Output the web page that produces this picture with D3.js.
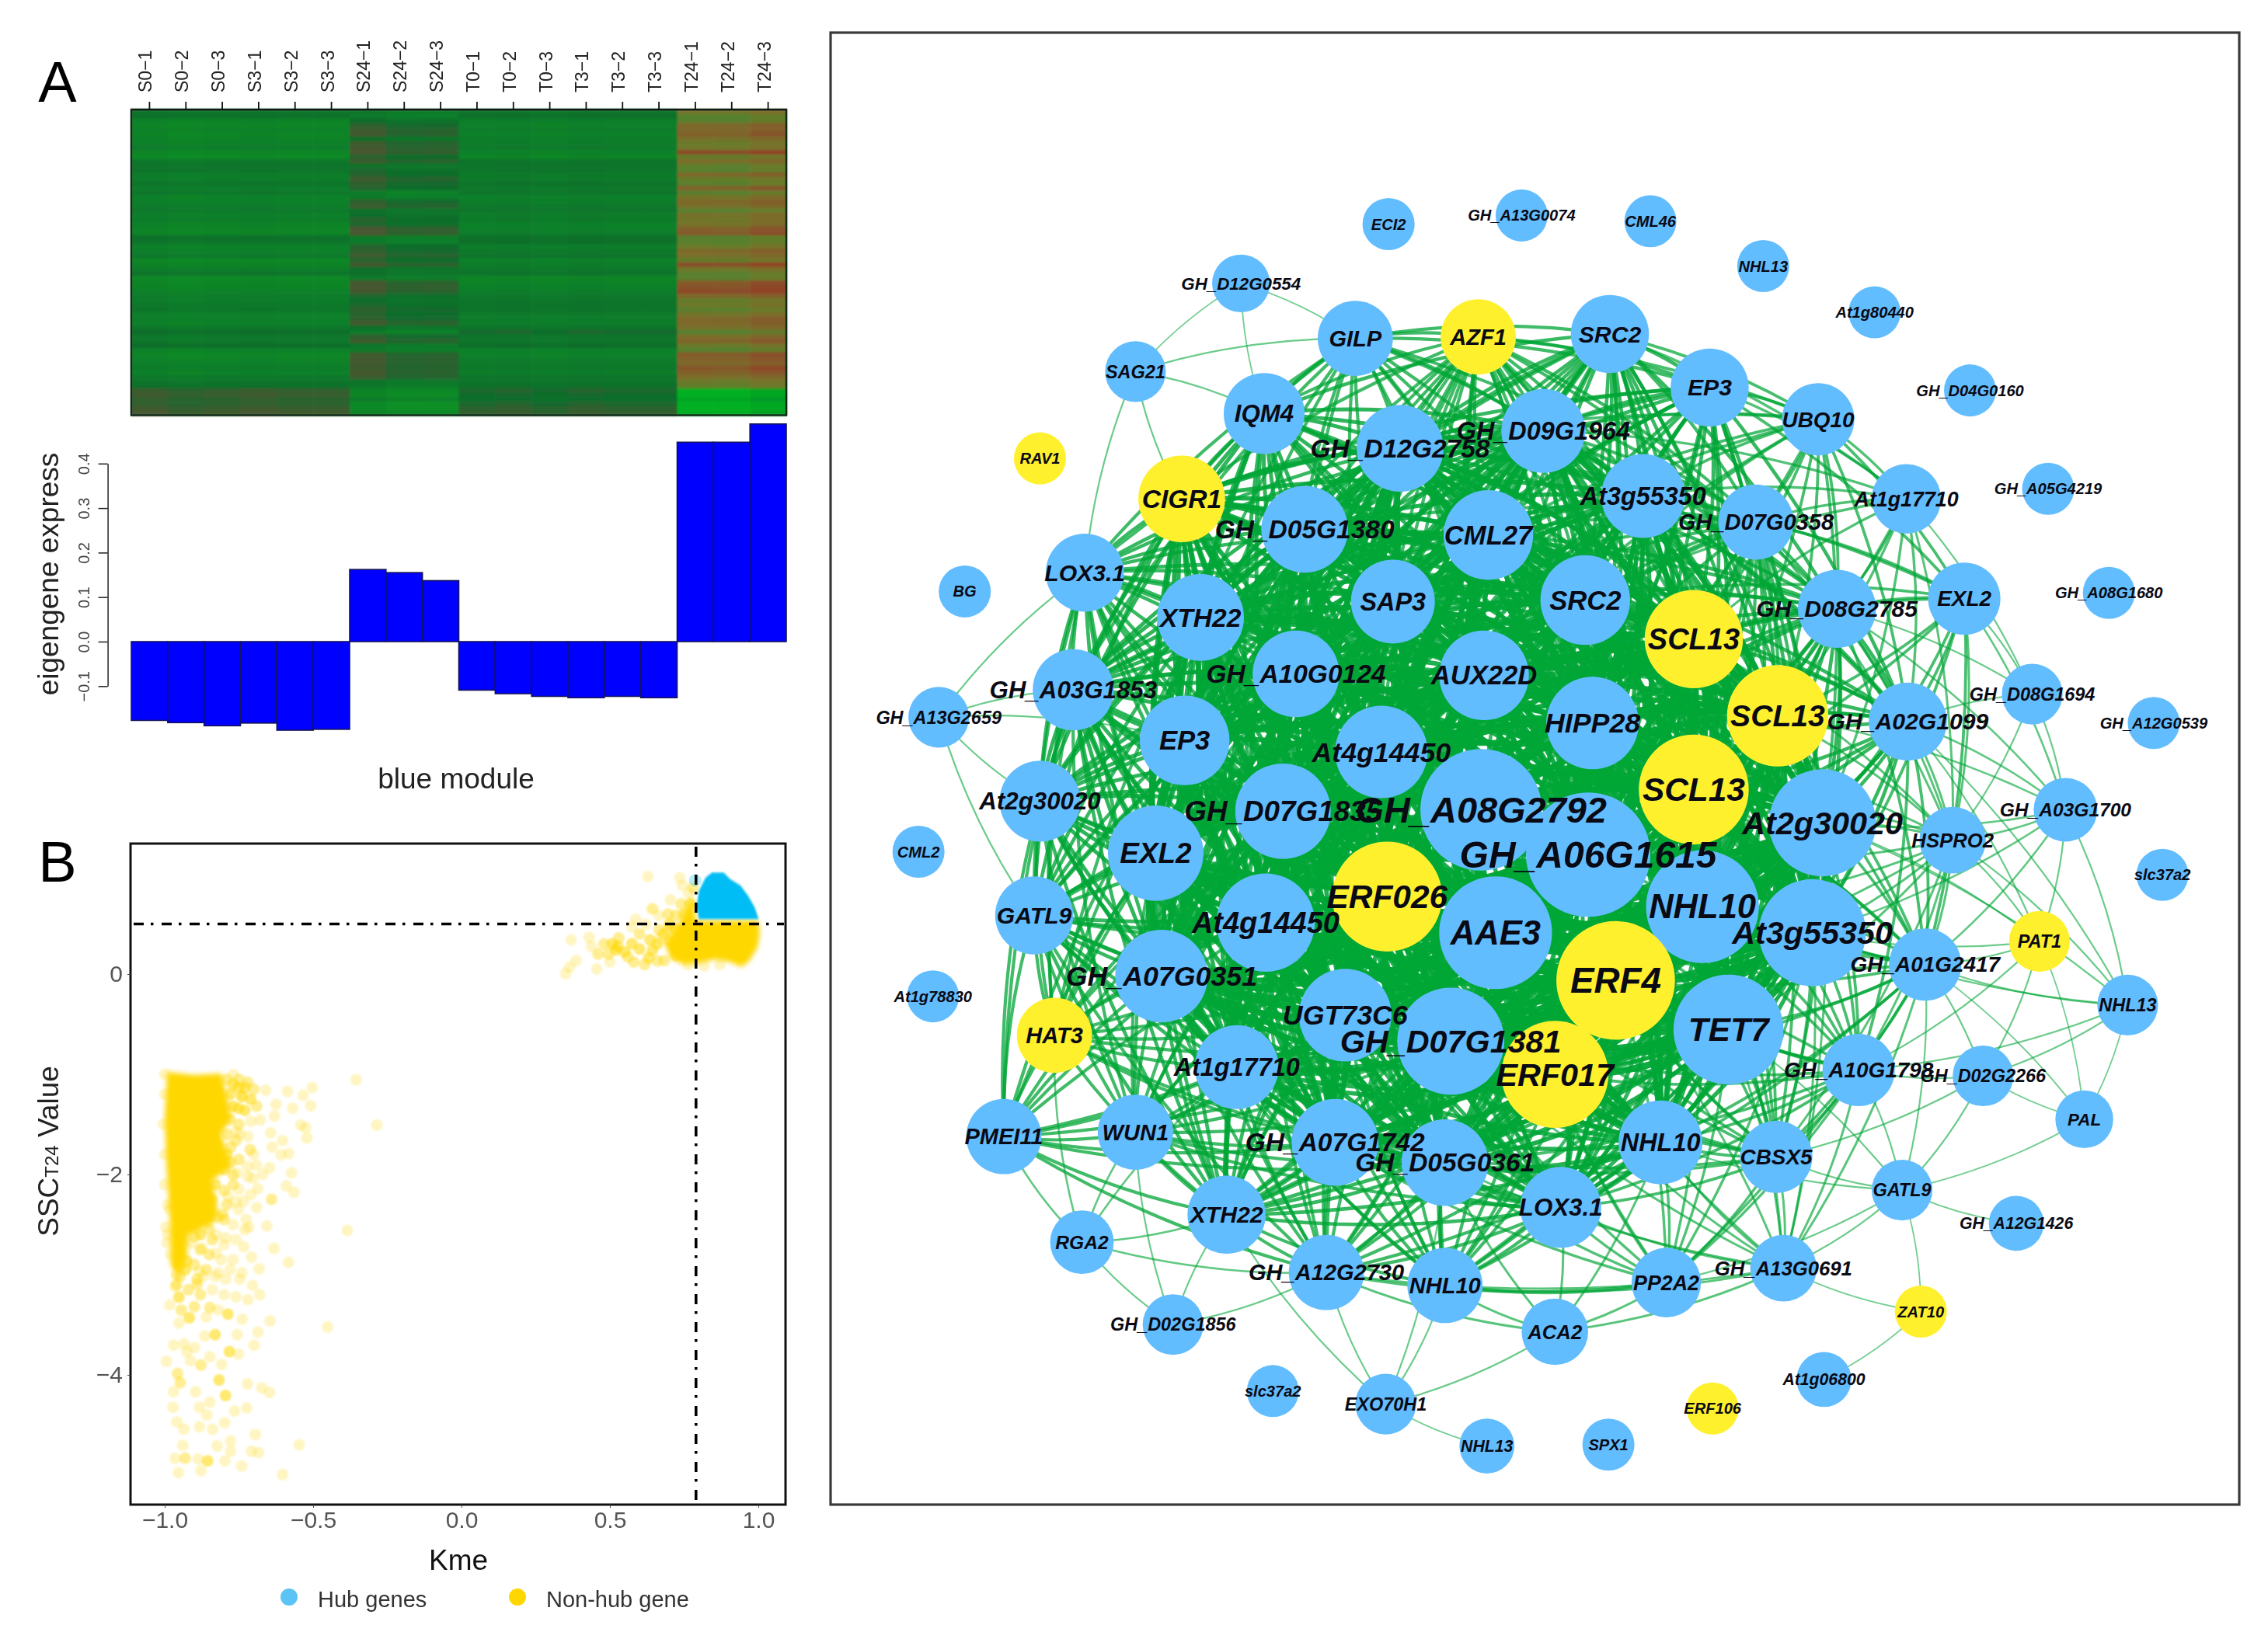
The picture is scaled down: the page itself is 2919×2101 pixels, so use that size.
<!DOCTYPE html>
<html><head><meta charset="utf-8">
<script src="https://cdn.jsdelivr.net/npm/d3@7/dist/d3.min.js"></script>
<style>html,body{margin:0;background:#fff}svg{display:block;filter:blur(0.7px)}text{font-family:"Liberation Sans",Arial,sans-serif}</style>
</head><body><svg id="fig" width="2919" height="2101"></svg>
<script>
// ---------- Panel A data ----------
const samples = ["S0−1","S0−2","S0−3","S3−1","S3−2","S3−3","S24−1","S24−2","S24−3","T0−1","T0−2","T0−3","T3−1","T3−2","T3−3","T24−1","T24−2","T24−3"];
const eigengene = [-.177,-.182,-.189,-.183,-.199,-.197,.162,.155,.137,-.109,-.117,-.123,-.126,-.123,-.126,.448,.448,.489];
const eigenTicks = [-.1,0,.1,.2,.3,.4];
const heatS = [.34,.38,.26,.24,.27,.24,.26,.27,.3,.24,.22,.33,.35,.36,.3,.3,.35,.3,.34,.27,.28,.3,.33,.28,.3,.26,.25,.25,.38,.35,.27,.28,.33,.24,.25,.3,.36,.22,.24,.25,.27,.3,.3,.33,.34,.28,.28,.27,.33,.4,.33,.33,.4,.27,.24,.26,.28,.3,.27,.33,.35,.38,.46,.47,.45,.45,.47,.48];
const heatS24 = [.32,.3,.38,.43,.45,.46,.36,.45,.46,.47,.42,.45,.35,.4,.42,.45,.43,.42,.28,.3,.43,.45,.36,.38,.42,.4,.47,.47,.3,.3,.42,.43,.45,.42,.46,.36,.36,.3,.46,.47,.46,.4,.38,.4,.43,.42,.43,.46,.36,.28,.43,.45,.33,.3,.45,.46,.46,.45,.46,.45,.34,.32,.24,.22,.28,.2,.2,.24];
const heatT = [.35,.38,.3,.27,.3,.27,.3,.3,.32,.27,.25,.35,.36,.36,.32,.32,.36,.33,.35,.28,.3,.33,.35,.3,.32,.28,.28,.3,.38,.38,.3,.33,.36,.28,.3,.33,.36,.25,.26,.28,.3,.33,.35,.36,.36,.32,.3,.3,.35,.42,.35,.35,.4,.28,.27,.3,.32,.33,.3,.35,.36,.38,.43,.41,.4,.43,.45,.46];
const heatT24 = [.72,.56,.57,.82,.82,.87,.75,.66,.68,.98,.63,.77,.6,.57,.82,.62,.58,.87,.58,.72,.82,.75,.58,.74,.7,.72,.87,.9,.57,.57,.66,.82,.75,.63,.96,.7,.58,.58,.9,.94,.98,.82,.63,.68,.58,.7,.82,.82,.75,.56,.77,.85,.66,.56,.9,.87,.82,.92,.87,.77,.66,.62,.02,0,.08,0,0,.02];
const replicateShift = [.01,-.01,0,.01,0,0,.025,-.015,-.01,0,.01,-.01,.01,0,0,-.01,-.02,.05];
const heatStops = [0,.25,.4,.5,.52,.65,.75,.85,1];
const heatColors = ["#00b022","#0a8428","#0a6e2c","#4d5530","#50822d","#6a7a2c","#7a6e2a","#80622a","#8f4428"];

// ---------- Panel B data (x = Kme, y = SSC value, optional overlap count) ----------
const kmeTicks = [-1,-.5,0,.5,1];
const sscTicks = [0,-2,-4];
const kmeCut = .79, sscCut = .5;
const hubOutline = [[.8,.548],[.792,.677],[.8,.832],[.822,.961],[.844,1.013],[.883,1.013],[.905,.948],[.94,.883],[.966,.78],[.988,.664],[1.001,.548]];
const upperOutline = [[.79,.535],[1.001,.535],[1.005,.392],[.997,.263],[.97,.134],[.944,.069],[.905,.121],[.853,.147],[.8,.108],[.748,.095],[.704,.16],[.687,.289],[.704,.392],[.739,.547],[.757,.651],[.778,.78]];
const lowerOutline = [[-.992,-.977],[-.9,-1.008],[-.808,-.992],[-.785,-1.287],[-.775,-1.442],[-.81,-1.597],[-.775,-1.907],[-.84,-2.062],[-.82,-2.372],[-.835,-2.488],[-.92,-2.605],[-.925,-2.837],[-.952,-2.992],[-.979,-2.915],[-.984,-2.372],[-.994,-1.907],[-1,-1.442]];
const hubStray = [[.787,.935,1]];
const upperCloud = [[.628,.974],[.735,.961],[.744,.883],[.704,.741],[.765,.806],[.643,.651,2],[.665,.586],[.587,.547],[.696,.599,2],[.722,.586,2],[.574,.47],[.369,.341],[.43,.367],[.438,.276],[.386,.134],[.364,.07],[.351,.005],[.456,.051],[.508,.302,3],[.526,.276,3],[.495,.199,2],[.56,.173,2],[.574,.302,3],[.617,.095,2],[.635,.341,3],[.643,.237,3],[.669,.354],[.665,.444,2],[.696,.444,2],[.621,.496],[.722,.186,2],[.765,.095],[.818,.082],[.87,.095],[.683,.134,2]];
const upperFringe = [[.46,.2,2],[.48,.3,2],[.5,.12],[.53,.36,2],[.55,.22,3],[.58,.12,2],[.6,.25,3],[.6,.4,2],[.63,.16,3],[.66,.3,3],[.68,.4,3],[.66,.13,2],[.7,.5,3],[.72,.45,3],[.72,.28,3],[.75,.6,3],[.77,.7,3],[.74,.7,2],[.78,.86,2],[.7,.33,3],[.52,.24,3]];
const lowerCloudTop = [[-.355,-1.055],[-.285,-1.507],[-.385,-2.558],[-.66,-1.158],[-.586,-1.171],[-.625,-1.3],[-.569,-1.339],[-.534,-1.21],[-.503,-1.132],[-.508,-1.313],[-.63,-1.416],[-.678,-1.455],[-.542,-1.507],[-.525,-1.533],[-.521,-1.636],[-.643,-1.584],[-.603,-1.662],[-.638,-1.726],[-.712,-1.752,2],[-.778,-1.726,2],[-.582,-1.791],[-.608,-1.804],[-.647,-1.933],[-.573,-1.985],[-.721,-1.92],[-.691,-1.907],[-.704,-2.036],[-.686,-2.14],[-.59,-2.114],[-.564,-2.179],[-.64,-2.248,2],[-.769,-2.101,2],[-.656,-2.514],[-.632,-2.739],[-.583,-2.876],[-.682,-2.941],[-.708,-2.825],[-.734,-2.721],[-.726,-2.45],[-.752,-2.347],[-.717,-2.527],[-.795,-2.631],[-.826,-2.786],[-.874,-2.734],[-.904,-2.527],[-.909,-2.682],[-.883,-2.967],[-.87,-3.018],[-.747,-3.044],[-.704,-3.109],[-.795,-3.044],[-.83,-3.018],[-.996,-2.527],[-.992,-2.682],[-.983,-2.347],[-.752,-1.339,3],[-.752,-1.132,3],[-.73,-1.132,3],[-.769,-1.003],[-.76,-1.571],[-.747,-1.597],[-.778,-1.881,2],[-.756,-1.985],[-.787,-2.217],[-.734,-2.269],[-.822,-2.424,2],[-.804,-2.398,2],[-.826,-2.605],[-.856,-2.243],[-.926,-2.243],[-.926,-2.863,3],[-.952,-2.915,3],[-.965,-3.12]];
const lowerFringe = [[-.79,-1.05,2],[-.77,-1.1,3],[-.75,-1.05,2],[-.72,-1.08,2],[-.7,-1.15,2],[-.78,-1.2,3],[-.74,-1.22,4],[-.71,-1.25,3],[-.77,-1.32,3],[-.73,-1.36,3],[-.69,-1.32,2],[-.78,-1.45,2],[-.75,-1.5,2],[-.71,-1.47],[-.79,-1.6,2],[-.76,-1.66,2],[-.72,-1.62],[-.79,-1.8,3],[-.75,-1.85,2],[-.7,-1.8],[-.8,-1.95,3],[-.77,-2,2],[-.72,-2.02],[-.67,-2],[-.83,-2.1,3],[-.8,-2.16,2],[-.75,-2.15],[-.71,-2.2],[-.84,-2.25,2],[-.79,-2.3,2],[-.76,-2.27],[-.69,-2.33],[-.8,-2.45,2],[-.77,-2.5],[-.73,-2.55],[-.85,-2.55,2],[-.88,-2.6,3],[-.84,-2.65,2],[-.8,-2.7],[-.76,-2.65],[-.88,-2.75,2],[-.85,-2.8,2],[-.81,-2.85],[-.77,-2.85],[-.9,-2.9,2],[-.86,-2.95,2],[-.82,-2.98],[-.78,-2.95],[-.74,-2.98],[-.9,-2.62,2],[-.93,-2.95,3],[-.96,-3,2],[-.98,-2.8],[-.99,-2.6],[-.99,-2.3],[-1,-2.1],[-1,-1.8],[-1.005,-1.5],[-1,-1.2],[-1,-1],[-.96,-3.1,2],[-.92,-3.15,2],[-.88,-3.2,2],[-.84,-3.15],[-.8,-3.2],[-.76,-3.22],[-.72,-3.25],[-.68,-3.2],[-.9,-3.32,2],[-.86,-3.42],[-.82,-3.35]];
const lowerCloudBottom = [[-.948,-3.018,2],[-.891,-3.044,2],[-.891,-3.095,2],[-.952,-3.225,3],[-.983,-3.302],[-.944,-3.354,2],[-.917,-3.431,3],[-.952,-3.483],[-.848,-3.328,2],[-.787,-3.393,3],[-.739,-3.444],[-.645,-3.462],[-.451,-3.522],[-.686,-3.573],[-.756,-3.599],[-.83,-3.599,3],[-.865,-3.612],[-.699,-3.703],[-.97,-3.703],[-.935,-3.69],[-.9,-3.728],[-.926,-3.767],[-.782,-3.767,3],[-.752,-3.793],[-.848,-3.819],[-.994,-3.865],[-.913,-3.858],[-.878,-3.902,2],[-.808,-3.896],[-.957,-3.987,2],[-.948,-4.077,2],[-.817,-4.051,3],[-.795,-4.206,3],[-.97,-4.168],[-.896,-4.168],[-.721,-4.09],[-.673,-4.129],[-.647,-4.175],[-.848,-4.271],[-.883,-4.323],[-.972,-4.323],[-.765,-4.361],[-.724,-4.33],[-.858,-4.4],[-.959,-4.47],[-.935,-4.542],[-.883,-4.517],[-.839,-4.542],[-.798,-4.478],[-.695,-4.594],[-.778,-4.659],[-.939,-4.703],[-.823,-4.71],[-.778,-4.762],[-.708,-4.762],[-.684,-4.775],[-.547,-4.697],[-.965,-4.832],[-.931,-4.832,2],[-.887,-4.84],[-.855,-4.858,3],[-.797,-4.858],[-.741,-4.909],[-.954,-4.974],[-.878,-4.956],[-.603,-4.995]];

// ---------- Panel C data: [gene, layout x, layout y, degree size, is TF, link count] ----------
const outerNodes = [
["ECI2",960,155,18,0,0],["GH_A13G0074",1052,149,18,0,0],["CML46",1141,153,18,0,0],["NHL13",1219,184,18,0,0],["At1g80440",1296,216,18,0,0],["GH_D04G0160",1362,270,18,0,0],["GH_A05G4219",1416,338,18,0,0],["GH_A08G1680",1458,410,18,0,0],["GH_A12G0539",1489,500,18,0,0],["slc37a2",1495,605,18,0,0],["At1g78830",645,689,18,0,0],["CML2",635,589,18,0,0],["BG",667,409,18,0,0],["RAV1",719,317,18,1,0],["slc37a2",880,962,18,0,0],["ERF106",1184,974,18,1,0],["SPX1",1112,999,18,0,0],
["GH_A12G1426",1394,846,19,0,1],["ZAT10",1328,907,18,1,2],["At1g06800",1261,954,19,0,1],["NHL13",1028,1000,19,0,1],["GH_D12G0554",858,196,20,0,3],["SAG21",785,257,21,0,4],["GH_A13G2659",649,496,21,0,5],["GH_D08G1694",1405,480,21,0,6],["GH_A03G1700",1428,560,22,0,8],["PAT1",1410,651,21,1,7],["NHL13",1471,695,21,0,7],["PAL",1441,774,20,0,5],["GH_D02G2266",1371,744,21,0,6],["GATL9",1315,823,21,0,7],["GH_D02G1856",811,916,21,0,4],["EXO70H1",958,971,21,0,5],["RGA2",748,859,22,0,6],["ACA2",1075,921,23,0,7]];
const middleNodes = [
["GILP",937,234,26,0,22],["AZF1",1022,233,26,1,26],["SRC2",1113,231,27,0,26],["EP3",1182,268,27,0,24],["UBQ10",1257,290,25,0,18],["At1g17710",1318,345,24,0,14],["EXL2",1358,414,25,0,14],["IQM4",874,286,28,0,24],["LOX3.1",750,396,27,0,24],["HAT3",729,716,26,1,20],["PMEI11",694,786,26,0,18],["WUN1",785,783,26,0,20],["XTH22",848,840,27,0,24],["GH_A12G2730",917,880,26,0,20],["NHL10",999,889,26,0,20],["GH_A13G0691",1233,877,23,0,16],["PP2A2",1152,887,24,0,16],["CBSX5",1228,800,25,0,20],["GH_A10G1798",1285,740,25,0,18],["GH_A01G2417",1331,667,25,0,18],["HSPRO2",1350,581,23,0,16],["GH_A02G1099",1319,499,27,0,20],["GH_D08G2785",1270,421,27,0,24],["GH_D07G0358",1214,361,26,0,24],["At3g55350",1136,343,29,0,28],["GH_D09G1964",1067,298,29,0,30],["GH_D12G2758",968,310,30,0,30],["CIGR1",817,345,30,1,26],["GH_D05G1380",902,366,30,0,34],["CML27",1029,370,31,0,40],["GH_A03G1853",742,477,28,0,26],["At2g30020",719,554,28,0,22],["GATL9",715,633,27,0,22]];
const coreNodes = [
["EXL2",799,590,33,0,40],["GH_A07G0351",803,675,32,0,36],["At1g17710",855,738,29,0,36],["GH_A07G1742",923,790,30,0,38],["GH_D05G0361",999,804,30,0,40],["NHL10",1148,790,29,0,38],["LOX3.1",1079,835,28,0,30],["TET7",1195,712,38,0,40],["At3g55350",1253,645,37,0,36],["At2g30020",1260,569,37,0,38],["SCL13",1229,495,35,1,40],["XTH22",830,427,30,0,34],["SAP3",963,416,29,0,40],["SRC2",1096,415,31,0,40],["SCL13",1171,442,34,1,40],["GH_A10G0124",896,466,30,0,50],["AUX22D",1026,467,31,0,50],["EP3",819,512,31,0,44],["At4g14450",955,520,32,0,50],["HIPP28",1101,500,32,0,50],["SCL13",1171,546,38,1,50],["GH_D07G1835",887,561,33,0,50],["At4g14450",875,638,34,0,50],["UGT73C6",930,702,32,0,50],["GH_A08G2792",1024,560,42,0,50],["GH_A06G1615",1098,591,43,0,50],["NHL10",1177,627,39,0,50],["AAE3",1034,645,39,0,50],["ERF026",959,620,38,1,50],["GH_D07G1381",1003,720,37,0,50],["ERF017",1075,743,37,1,50],["ERF4",1117,678,41,1,50]];
const legendItems = [["Hub genes","hub"],["Non-hub gene","non"]];

// ---------- Drawing ----------
const svg = d3.select("#fig");
const ink = "#111";
const blue = "#00bdf5", gold = "#ffd700";
function letter(t,x,y){svg.append("text").attr("x",x).attr("y",y).attr("text-anchor","middle").attr("font-size",74).attr("fill","#000").text(t);}
letter("A",74,131); letter("B",74,1135); letter("C",1155,124);

// ----- A heatmap -----
const colX = d3.scaleBand().domain(samples).range([169,1012]);
const rowY = d3.scaleBand().domain(d3.range(heatS.length)).range([141,534.5]);
const heatColor = d3.scaleLinear().domain(heatStops).range(heatColors).clamp(true);
const defs = svg.append("defs");
defs.append("filter").attr("id","soft").attr("x","-2%").attr("y","-2%").attr("width","104%").attr("height","104%").append("feGaussianBlur").attr("stdDeviation","1 1.6");
defs.append("filter").attr("id","soft2").attr("x","-5%").attr("y","-5%").attr("width","110%").attr("height","110%").append("feGaussianBlur").attr("stdDeviation","3");
defs.append("filter").attr("id","dot").attr("x","-5%").attr("y","-5%").attr("width","110%").attr("height","110%").append("feGaussianBlur").attr("stdDeviation","1.3");
const condition = [heatS,heatS,heatS,heatS,heatS,heatS,heatS24,heatS24,heatS24,heatT,heatT,heatT,heatT,heatT,heatT,heatT24,heatT24,heatT24];
const heat = svg.append("g").attr("filter","url(#soft)");
samples.forEach((s,c)=>{
  heat.selectAll(null).data(condition[c]).join("rect")
    .attr("x",colX(s)).attr("width",colX.bandwidth()+.6)
    .attr("y",(d,i)=>rowY(i)).attr("height",rowY.bandwidth()+.6)
    .attr("fill",d=>heatColor(d+replicateShift[c]));
});
svg.append("rect").attr("x",169).attr("y",141).attr("width",843).attr("height",393.5).attr("fill","none").attr("stroke","#102a18").attr("stroke-width",2.5);
const topAxis = svg.append("g").attr("transform","translate(0,141)").call(d3.axisTop(colX).tickSize(10).tickSizeOuter(0));
topAxis.select(".domain").attr("stroke",ink).attr("stroke-width",1.5);
topAxis.selectAll("line").attr("stroke",ink).attr("stroke-width",1.8);
topAxis.selectAll("text").attr("transform","rotate(-90)").attr("x",22).attr("y",3).attr("dy",0).attr("text-anchor","start").attr("font-size",23).attr("fill","#222").style("font-family",'"Liberation Sans"');

// ----- A bars -----
const barY = d3.scaleLinear().domain([-.1,.4]).range([883.3,596.8]);
svg.append("g").selectAll("rect").data(eigengene).join("rect")
  .attr("x",(d,i)=>colX(samples[i])).attr("width",colX.bandwidth())
  .attr("y",d=>Math.min(barY(d),barY(0))).attr("height",d=>Math.abs(barY(d)-barY(0)))
  .attr("fill","#0000ff").attr("stroke","#14145a").attr("stroke-width",1.6);
const leftAxis = svg.append("g").attr("transform","translate(138.6,0)").call(d3.axisLeft(barY).tickValues(eigenTicks).tickFormat(d3.format(".1f")).tickSize(12).tickSizeOuter(0));
leftAxis.selectAll(".domain,line").attr("stroke","#222").attr("stroke-width",1.5);
leftAxis.selectAll("text").attr("transform","rotate(-90)").attr("x",0).attr("y",-24).attr("dy",0).attr("text-anchor","middle").attr("font-size",20).attr("fill","#444").style("font-family",'"Liberation Sans"');
svg.append("text").attr("transform","translate(75,739) rotate(-90)").attr("text-anchor","middle").attr("font-size",37).attr("fill","#222").text("eigengene express");
svg.append("text").attr("x",587).attr("y",1015).attr("text-anchor","middle").attr("font-size",37).attr("fill","#222").text("blue module");

// ----- B scatter -----
const kx = d3.scaleLinear().domain([-1,1]).range([212,976]);
const ky = d3.scaleLinear().domain([0,-4]).range([1254,1770]);
const blob = d3.line().x(d=>kx(d[0])).y(d=>ky(d[1])).curve(d3.curveLinearClosed);
const plotB = svg.append("g");
[lowerOutline,upperOutline].forEach(o=>plotB.append("path").attr("d",blob(o)).attr("fill",gold).attr("filter","url(#soft2)"));
plotB.append("path").attr("d",blob(hubOutline)).attr("fill",blue).attr("filter","url(#soft)");
const dotOpacity = n=>1-Math.pow(.76,n||1);
const dotLayer = plotB.append("g").attr("filter","url(#dot)");
[upperCloud,upperFringe,lowerCloudTop,lowerFringe,lowerCloudBottom].forEach(set=>{
  dotLayer.append("g").selectAll("circle").data(set).join("circle")
    .attr("cx",d=>kx(d[0])).attr("cy",d=>ky(d[1])).attr("r",7.5).attr("fill",gold).attr("fill-opacity",d=>dotOpacity(d[2]));
});
plotB.append("g").selectAll("circle").data(hubStray).join("circle").attr("cx",d=>kx(d[0])).attr("cy",d=>ky(d[1])).attr("r",8).attr("fill",blue).attr("fill-opacity",.28);
const cutStyle = s=>s.attr("stroke","#000").attr("stroke-width",3.6).attr("stroke-dasharray","13 9 3.5 10.5");
cutStyle(svg.append("line").attr("x1",172).attr("x2",1009).attr("y1",ky(sscCut)).attr("y2",ky(sscCut)));
cutStyle(svg.append("line").attr("y1",1090).attr("y2",1935).attr("x1",kx(kmeCut)).attr("x2",kx(kmeCut)));
svg.append("rect").attr("x",168).attr("y",1086).attr("width",843).attr("height",851).attr("fill","none").attr("stroke","#111").attr("stroke-width",3);
const xB = svg.append("g").attr("transform","translate(0,1937)").call(d3.axisBottom(kx).tickValues(kmeTicks).tickFormat(d3.format(".1f")).tickSize(4).tickPadding(5));
const yB = svg.append("g").attr("transform","translate(168,0)").call(d3.axisLeft(ky).tickValues(sscTicks).tickFormat(d3.format("d")).tickSize(4).tickPadding(6));
[xB,yB].forEach(a=>{a.select(".domain").remove();a.selectAll("line").attr("stroke","#444");a.selectAll("text").attr("font-size",30).attr("fill","#555").style("font-family",'"Liberation Sans"');});
svg.append("text").attr("x",590).attr("y",2021).attr("text-anchor","middle").attr("font-size",37).attr("fill","#111").text("Kme");
const sscTitle = svg.append("text").attr("transform","translate(75,1482) rotate(-90)").attr("text-anchor","middle").attr("font-size",37).attr("fill","#222");
sscTitle.append("tspan").text("SSC"); sscTitle.append("tspan").attr("font-size",24).text("T24"); sscTitle.append("tspan").text(" Value");
const legendX = d3.scaleOrdinal().domain(["hub","non"]).range([372,666]);
const legend = svg.append("g").selectAll("g").data(legendItems).join("g").attr("transform",d=>`translate(${legendX(d[1])},2056)`);
legend.append("circle").attr("r",11).attr("fill",d=>d[1]==="hub"?"#5cc3f5":gold);
legend.append("text").attr("x",37).attr("y",13).attr("font-size",29).attr("fill","#333").text(d=>d[0]);

// ----- C network -----
const lx = d3.scaleLinear().domain([0,1568]).range([0,2919]);
const ly = d3.scaleLinear().domain([0,1128.6]).range([0,2101]);
const lr = d3.scaleLinear().domain([0,1568]).range([0,2919]);
svg.append("rect").attr("x",1069).attr("y",42).attr("width",1813).attr("height",1895).attr("fill","#fff").attr("stroke","#3a3a3a").attr("stroke-width",3.2);
const allNodes = [...outerNodes,...middleNodes,...coreNodes].map((n,i)=>({id:i,name:n[0],x:lx(n[1]),y:ly(n[2]),r:lr(n[3]),tf:n[4],k:n[5]}));
const hubCentre = {x:lx(1040),y:ly(570)};
const seen = new Set(), edges = [];
allNodes.forEach(a=>{
  if(!a.k) return;
  allNodes.filter(b=>b!==a && (b.k>a.k || (a.k>=30 && b.k>=30)))
    .sort((p,q)=>Math.hypot(p.x-a.x,p.y-a.y)-Math.hypot(q.x-a.x,q.y-a.y))
    .slice(0,a.k).forEach(b=>{
      const key=Math.min(a.id,b.id)+"-"+Math.max(a.id,b.id);
      if(!seen.has(key)){seen.add(key);edges.push([a,b]);}
    });
});
const edgeWidth = d3.scaleLinear().domain([lr(20),lr(38)]).range([1.8,9]).clamp(true);
const edgeAlpha = d3.scaleLinear().domain([lr(20),lr(32)]).range([.55,.95]).clamp(true);
function arc([a,b]){
  const mx=(a.x+b.x)/2,my=(a.y+b.y)/2,dx=b.x-a.x,dy=b.y-a.y;
  let nx=-dy,ny=dx; if(nx*(mx-hubCentre.x)+ny*(my-hubCentre.y)<0){nx=-nx;ny=-ny;}
  const bow=Math.min(a.k,b.k)>=30?.16:.08;
  const p=d3.path();p.moveTo(a.x,a.y);p.quadraticCurveTo(mx+nx*bow,my+ny*bow,b.x,b.y);return p.toString();
}
svg.append("g").attr("fill","none").selectAll("path").data(edges).join("path")
  .attr("d",arc).attr("stroke","#00a636")
  .attr("stroke-width",d=>edgeWidth(Math.min(d[0].r,d[1].r)))
  .attr("stroke-opacity",d=>edgeAlpha(Math.min(d[0].r,d[1].r)));
const nodeG = svg.append("g");
nodeG.selectAll("circle").data(allNodes).join("circle").attr("cx",d=>d.x).attr("cy",d=>d.y).attr("r",d=>d.r).attr("fill",d=>d.tf?"#fff02e":"#62bdff");
nodeG.selectAll("text").data(allNodes).join("text").attr("x",d=>d.x).attr("y",d=>d.y).attr("dy","0.35em")
  .attr("text-anchor","middle").attr("font-weight","bold").attr("font-style","italic").attr("font-size",d=>d.r*.6).attr("fill","#0a0a14").text(d=>d.name);
</script></body></html>
